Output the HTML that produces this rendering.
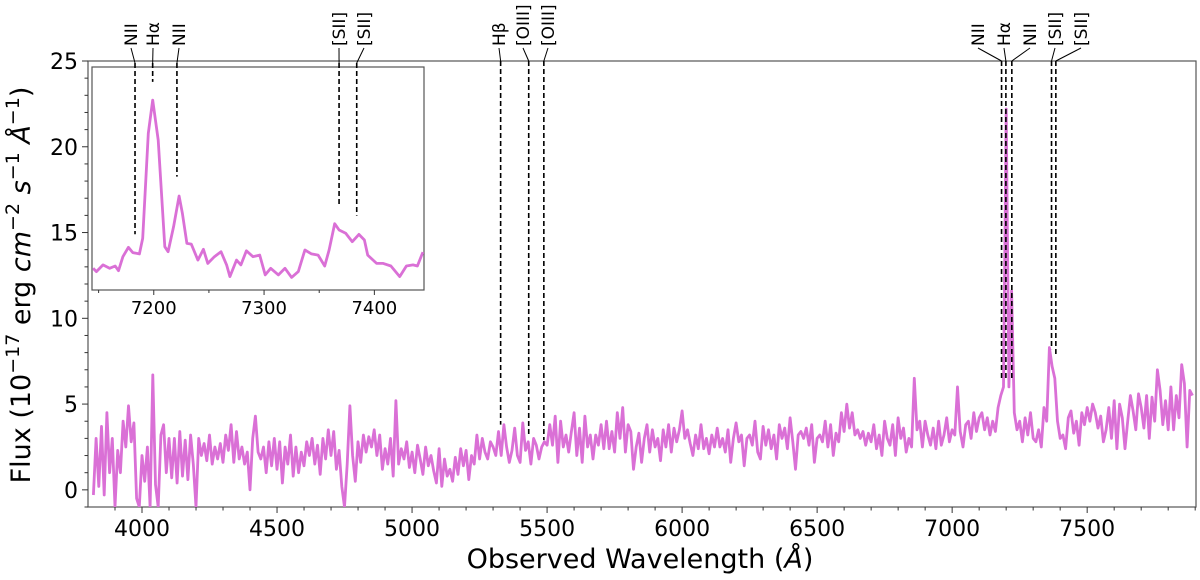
<!DOCTYPE html>
<html><head><meta charset="utf-8"><style>
body{margin:0;background:#fff;}
svg{display:block;font-family:"DejaVu Sans","Liberation Sans",sans-serif;}
</style></head><body>
<svg id="chart" width="1200" height="580" viewBox="0 0 1200 580">
<g id="main"></g>
<g id="inset"></g>
<text x="30" y="285" font-size="27" text-anchor="middle" transform="rotate(-90 30 285)">Flux (10<tspan dy="-11" font-size="19">−17</tspan><tspan dy="11"> erg </tspan><tspan font-style="italic">cm</tspan><tspan dy="-11" font-size="19">−2</tspan><tspan dy="11"> </tspan><tspan font-style="italic">s</tspan><tspan dy="-11" font-size="19">−1</tspan><tspan dy="11"> </tspan><tspan font-style="italic">Å</tspan><tspan dy="-11" font-size="19">−1</tspan><tspan dy="11">)</tspan></text>
<text x="640" y="568" font-size="27" text-anchor="middle">Observed Wavelength (<tspan font-style="italic">Å</tspan>)</text>
</svg>
<script>
const wlStart = 3820, wlStep = 10;
const flux = [
-0.3,3.0,0.2,3.7,-0.3,4.5,1.0,3.0,-1.0,
2.3,1.0,4.0,2.5,4.9,2.8,3.9,-0.5,-1.0,2.0,
0.5,2.5,-1.0,6.7,0.3,-1.0,3.2,3.8,1.0,3.0,
0.7,3.0,0.4,3.4,0.8,2.9,0.6,3.2,1.5,-1.0,
3.0,2.0,2.7,1.7,3.2,1.5,2.5,1.8,2.7,1.6,
3.2,2.3,3.8,1.6,3.4,1.8,2.5,1.5,2.2,0.0,
3.0,4.3,2.2,1.8,2.5,1.0,2.8,1.4,3.0,1.2,
2.8,0.4,2.5,1.5,3.2,0.8,2.5,1.0,2.2,1.4,
2.8,2.0,3.0,1.5,2.6,0.9,3.0,1.8,3.5,2.0,
3.4,1.2,2.3,0.2,-1.0,1.5,4.9,2.0,0.5,2.8,
1.6,3.2,2.2,3.1,2.5,3.5,2.0,3.2,1.2,2.4,
1.5,3.0,0.8,5.2,1.5,2.4,1.8,2.8,1.3,2.2,
1.0,2.6,1.8,0.9,2.5,1.4,2.0,1.1,0.4,2.4,
0.2,1.8,0.8,1.2,0.5,1.9,0.9,2.4,1.4,2.3,
0.6,2.0,1.5,3.2,1.8,3.0,2.2,1.8,2.8,2.5,
2.0,3.4,2.0,3.8,2.5,1.6,2.3,3.6,2.0,1.6,
3.9,2.3,2.8,1.5,3.0,2.6,1.8,2.5,2.8,2.6,
3.8,2.6,4.3,1.6,4.0,2.5,3.2,2.2,3.4,4.5,
2.0,3.6,1.6,4.3,2.5,3.2,1.8,3.2,2.6,3.8,
2.4,4.0,2.4,3.4,2.2,4.5,3.0,4.8,2.2,3.8,
3.4,1.2,2.5,3.3,1.6,3.0,3.8,2.2,3.5,2.5,
3.0,1.7,3.5,2.5,3.8,2.2,3.6,2.8,3.5,4.6,
3.0,3.5,2.7,2.0,3.2,2.4,3.8,2.4,3.0,2.1,
3.2,2.5,3.6,2.5,3.0,2.2,3.5,1.6,3.0,3.9,
2.8,3.2,1.4,3.0,3.2,2.6,4.0,2.2,1.8,3.7,
2.6,3.5,2.4,3.2,1.8,3.8,3.0,3.6,2.4,4.2,
2.8,1.2,3.2,3.4,3.0,3.6,2.6,3.8,1.6,3.0,
3.2,2.8,4.0,2.5,3.8,2.0,3.3,2.8,4.5,3.4,
5.0,3.6,4.5,3.2,3.5,3.0,3.4,2.6,3.3,2.8,
3.8,2.4,3.2,2.0,4.0,3.0,2.6,3.8,2.0,4.2,
3.0,3.6,2.2,3.0,2.5,6.5,3.5,4.0,2.5,4.0,
3.2,2.6,3.6,2.4,4.0,2.6,3.2,4.2,2.8,3.5,
3.2,6.0,3.4,2.5,3.8,4.0,3.0,4.5,3.4,4.2,
4.5,3.5,4.2,3.2,4.0,3.4,4.8,5.5,6.0,22.2,
6.0,11.6,4.5,3.5,4.0,2.8,4.2,3.2,4.5,3.0,
2.8,3.5,2.5,4.8,4.0,8.3,7.2,6.5,4.0,
3.0,3.2,2.4,4.2,4.6,3.3,4.0,2.6,4.5,3.8,
4.8,4.0,5.0,4.5,3.6,4.3,2.8,3.5,4.8,3.0,
5.2,2.4,5.0,4.2,2.4,4.0,5.5,4.6,3.5,5.6,
4.8,3.6,5.5,3.0,5.4,4.0,7.0,5.8,3.8,5.2,
3.5,6.0,3.5,5.5,4.2,7.3,6.2,2.5,5.8,5.5
];
const xTicks = [4000,4500,5000,5500,6000,6500,7000,7500];
const yTicks = [0,5,10,15,20,25];
const insetXTicks = [7200,7300,7400];
const insetWl = [7145,7148,7154,7160,7165,7168,7172,7177,7181,7187,7190,7195,7199,7204,7210,7213,7218,7223,7226,7230,7234,7240,7245,7249,7255,7261,7266,7269,7275,7279,7284,7290,7296,7301,7306,7313,7319,7325,7331,7337,7343,7349,7355,7359,7364,7368,7374,7380,7386,7391,7394,7402,7408,7415,7423,7429,7435,7439,7444];
const insetFlux = [13.17,12.99,13.35,13.17,13.29,13.04,13.79,14.30,14.01,13.94,14.78,20.43,22.22,20.07,14.33,14.06,15.41,17.06,16.12,14.51,14.47,13.61,14.19,13.43,13.79,14.06,13.35,12.72,13.61,13.35,14.11,13.79,13.88,12.81,13.17,12.81,13.17,12.68,12.99,14.15,13.94,13.88,13.29,14.15,15.57,15.23,15.05,14.60,14.99,14.69,13.88,13.43,13.43,13.29,12.72,13.29,13.35,13.29,14.04];
const mainLineNames = ["Hβ","[OIII]","[OIII]","NII","Hα","NII","[SII]","[SII]"];
const mainLineWl = [5328,5432,5488,7183,7199,7221,7368,7384];
const mainLineEnd = [3.8,3.1,2.9,6.4,6.4,6.5,8.2,7.9];
const insetLineNames = ["NII","Hα","NII","[SII]","[SII]"];
const insetLineWl = [7183,7199,7221,7368,7384];
const insetLineEnd = [15.0,23.2,18.1,16.5,16.0];

const NS="http://www.w3.org/2000/svg";
function mk(tag,attrs,parent){const e=document.createElementNS(NS,tag);for(const k in attrs)e.setAttribute(k,attrs[k]);parent.appendChild(e);return e;}
const L=88,R=1196,T=61,B=507,X0=3800,X1=7903,Y0=-1,Y1=25;
const sx=w=>L+(w-X0)/(X1-X0)*(R-L);
const sy=v=>B-(v-Y0)/(Y1-Y0)*(B-T);
const IL=92,IR=424,IT=67,IB=290,IX0=7144,IX1=7445,IY0=12,IY1=24;
const isx=w=>IL+(w-IX0)/(IX1-IX0)*(IR-IL);
const isy=v=>IB-(v-IY0)/(IY1-IY0)*(IB-IT);
const main=document.getElementById('main'), inset=document.getElementById('inset');

const fr=mk('rect',{x:L,y:T,width:R-L,height:B-T,fill:'none',stroke:'#555','stroke-width':1.2},main);


for(let w=3900;w<=7900;w+=100){
  const t=mk('line',{x1:sx(w),x2:sx(w),y1:B,y2:B+(w%500===0?6:3.5),stroke:'#333','stroke-width':1},main);
  
  
}
xTicks.forEach(w=>{
  const t=mk('text',{x:sx(w),y:B+29,'font-size':22,'text-anchor':'middle'},main);t.textContent=w;
  
  
});
for(let v=-1;v<=25;v++){
  const t=mk('line',{x1:L,x2:L-(v%5===0?6:3.5),y1:sy(v),y2:sy(v),stroke:'#333','stroke-width':1},main);
  
  
}
yTicks.forEach(v=>{
  const t=mk('text',{x:L-10,y:sy(v)+8,'font-size':22,'text-anchor':'end'},main);t.textContent=v;
  
  
});
const pts=flux.map((f,i)=>sx(wlStart+i*wlStep).toFixed(1)+','+sy(Math.max(f,-1.05)).toFixed(1)).join(' ');
const cp=mk('clipPath',{id:'mc'},main);mk('rect',{x:L,y:T,width:R-L,height:B-T},cp);
const sp=mk('polyline',{points:pts,fill:'none',stroke:'#DA70D6','stroke-width':2.8,'stroke-linejoin':'round','clip-path':'url(#mc)'},main);


const labelXs=[499,523,548,978,1004,1030,1055,1081];
mainLineWl.forEach((w,i)=>{
  const x=sx(w);
  const d=mk('line',{x1:x,x2:x,y1:T,y2:sy(mainLineEnd[i]),stroke:'#000','stroke-width':1.6,'stroke-dasharray':'5,3'},main);
  
  
  const c=mk('line',{x1:labelXs[i],y1:48,x2:x,y2:T,stroke:'#000','stroke-width':1},main);
  
  
  const t=mk('text',{transform:`translate(${labelXs[i]+6},46) rotate(-90)`,'font-size':17},main);t.textContent=mainLineNames[i];
  
  
});
const ibg=mk('rect',{x:IL,y:IT,width:IR-IL,height:IB-IT,fill:'#fff',stroke:'#555','stroke-width':1.2},inset);


for(let w=7150;w<=7440;w+=50){
  const t=mk('line',{x1:isx(w),x2:isx(w),y1:IB,y2:IB+(w%100===0?5:3),stroke:'#333','stroke-width':1},inset);
  
  
}
insetXTicks.forEach(w=>{
  const t=mk('text',{x:isx(w),y:IB+24,'font-size':18,'text-anchor':'middle'},inset);t.textContent=w;
  
  
});
const ipts=insetWl.map((w,i)=>isx(w).toFixed(1)+','+isy(insetFlux[i]).toFixed(1)).join(' ');
const isp=mk('polyline',{points:ipts,fill:'none',stroke:'#DA70D6','stroke-width':2.8,'stroke-linejoin':'round'},inset);


const iLabelXs=[131,153,179,339,364];
insetLineWl.forEach((w,i)=>{
  const x=isx(w);
  const d=mk('line',{x1:x,x2:x,y1:IT-4,y2:isy(insetLineEnd[i]),stroke:'#000','stroke-width':1.6,'stroke-dasharray':'5,3'},inset);
  
  
  const c=mk('line',{x1:iLabelXs[i],y1:48,x2:x,y2:IT-4,stroke:'#000','stroke-width':1},inset);
  
  
  const t=mk('text',{transform:`translate(${iLabelXs[i]+6},46) rotate(-90)`,'font-size':17},inset);t.textContent=insetLineNames[i];
  
  
});
</script>
</body></html>
